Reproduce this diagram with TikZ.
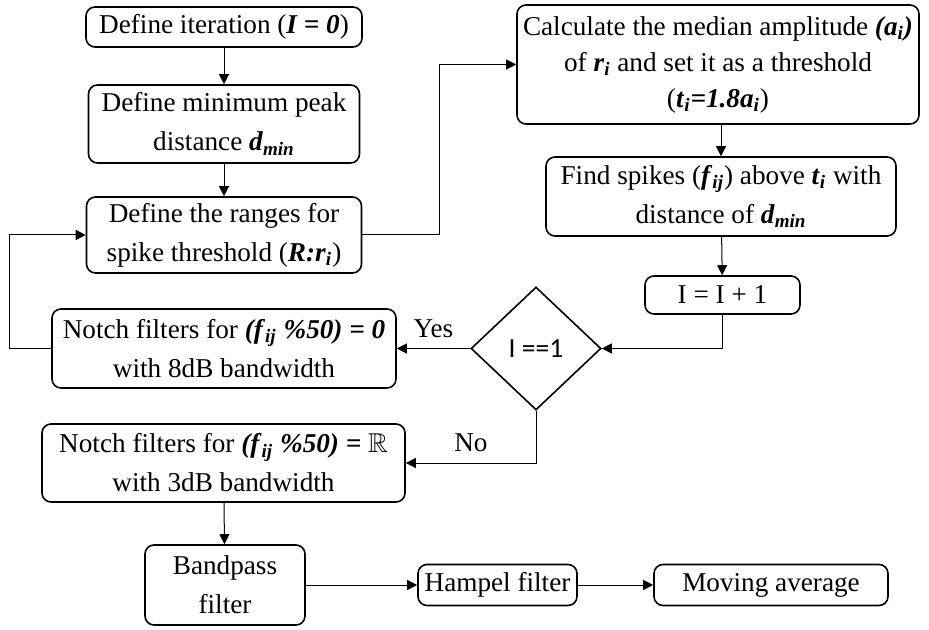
\documentclass[tikz,border=0pt]{standalone}
\usepackage{fontspec}
\usepackage{amssymb}
\setmainfont{Liberation Serif}
\newfontfamily\diafont{Carlito}
\usetikzlibrary{arrows.meta,shapes.geometric}
\newcommand{\bi}[1]{\textbf{\textit{#1}}}
\newcommand{\sbi}[1]{\textsubscript{\bi{#1}}}
\tikzset{
  proc/.style={draw, line width=0.8pt, rounded corners=4.5pt, align=center, inner sep=1pt},
  link/.style={line width=0.5pt, -{Triangle[length=5pt,width=5pt]}},
}
\begin{document}
\begin{tikzpicture}[x=0.5pt,y=-0.5pt,font=\fontsize{13.6}{19.5}\selectfont]
  \useasboundingbox (0,0) rectangle (929,630);
  % left column
  \node[proc, minimum width=138pt, minimum height=20pt] (iter) at (224,27) {Define iteration (\bi{I = 0})};
  \node[proc, minimum width=135.5pt, minimum height=39pt] (peak) at (224,124) {Define minimum peak\\distance \bi{d}\sbi{min}};
  \node[proc, minimum width=137.5pt, minimum height=38pt] (ranges) at (224,235) {Define the ranges for\\spike threshold (\bi{R:r}\sbi{i})};
  % right column
  \node[proc, minimum width=201pt, minimum height=59.5pt, font=\fontsize{13.6}{18}\selectfont] (median) at (718,64.5) {Calculate the median amplitude \bi{(a}\sbi{i}\bi{)}\\of \bi{r}\sbi{i} and set it as a threshold\\(\bi{t}\sbi{i}\bi{=1.8a}\sbi{i})};
  \node[proc, minimum width=175pt, minimum height=39.5pt] (spikes) at (721,196.5) {Find spikes (\bi{f}\sbi{ij}) above \bi{t}\sbi{i} with\\distance of \bi{d}\sbi{min}};
  \node[proc, minimum width=77.5pt, minimum height=19pt] (incr) at (722.5,295) {I = I + 1};
  \node[draw, line width=0.8pt, diamond, aspect=1, inner sep=0pt, minimum width=65pt, minimum height=61.5pt, font=\diafont\fontsize{13.8}{16}\selectfont] (check) at (536,348.5) {I ==1};
  % filters
  \node[proc, minimum width=172pt, minimum height=39.5pt] (notchA) at (224,348.5) {Notch filters for \bi{(f}\sbi{ij} \bi{\%50) = 0}\\with 8dB bandwidth};
  \node[proc, minimum width=181.5pt, minimum height=39pt] (notchB) at (223.5,463) {Notch filters for \bi{(f}\sbi{ij} \bi{\%50) =} $\mathbb{R}$\\with 3dB bandwidth};
  \node[proc, minimum width=80pt, minimum height=40pt] (band) at (225,585) {Bandpass\\filter};
  \node[proc, minimum width=79.5pt, minimum height=20.5pt] (hampel) at (497.5,585) {Hampel filter};
  \node[proc, minimum width=117pt, minimum height=20.5pt] (moving) at (771,585) {Moving average};

  \draw[link] (iter) -- (peak);
  \draw[link] (peak) -- (ranges);
  \draw[link] (ranges.east) -- ++(77,0) |- (median.west);
  \draw[link] (median.south -| spikes.north) -- (spikes.north);
  \draw[link] (spikes) -- (incr);
  \draw[link] (incr.south) |- (check.east);
  \draw[link] (check.west) -- node[above=2pt] {Yes} (notchA.east);
  \draw[link] (check.south) |- node[pos=0.75, above=2pt] {No} (notchB.east);
  \draw[link] (notchA.west) -- ++(-42,0) |- (ranges.west);
  \draw[link] (notchB) -- (band);
  \draw[link] (band) -- (hampel);
  \draw[link] (hampel) -- (moving);
\end{tikzpicture}
\end{document}
